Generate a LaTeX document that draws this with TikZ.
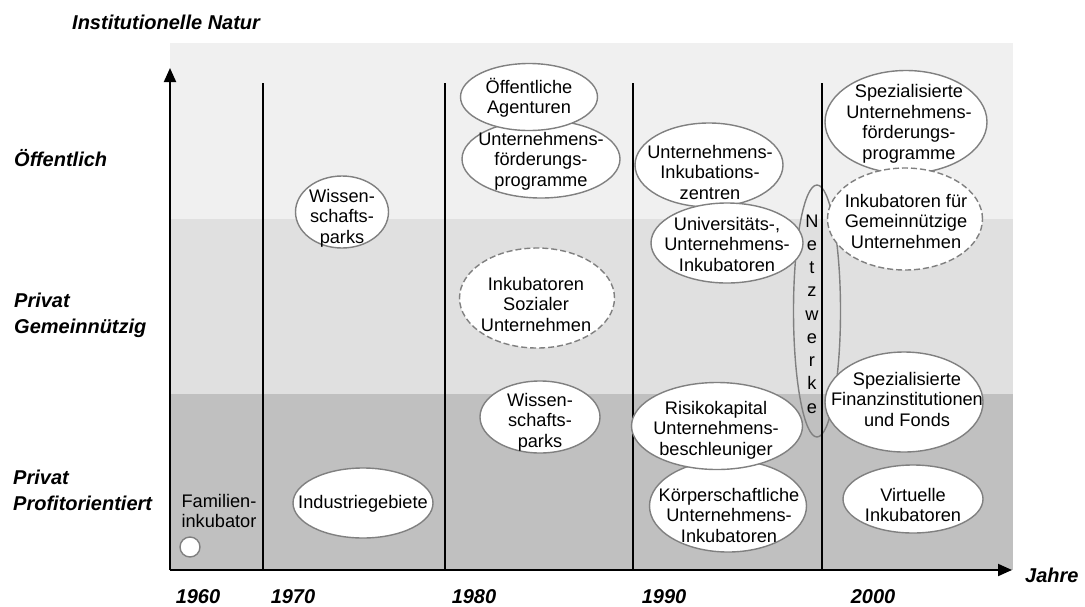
\documentclass[tikz,border=0pt]{standalone}
\usepackage{fontspec}
\setmainfont{Liberation Sans}
\usetikzlibrary{shapes.geometric,arrows.meta}
\definecolor{bandpub}{HTML}{F0F0F0}
\definecolor{bandnon}{HTML}{E0E0E0}
\definecolor{bandpro}{HTML}{C0C0C0}
\definecolor{rim}{HTML}{808080}
\begin{document}
\begin{tikzpicture}[x=1pt,y=-1pt,
  blob/.style={ellipse,draw=rim,line width=1.4pt,fill=white,inner sep=0pt},
  blobdash/.style={blob,dash pattern=on 6pt off 3pt},
  txt/.style={align=center,font=\fontsize{18.2}{20.5}\selectfont,inner sep=0pt},
  cat/.style={font=\fontsize{20}{26}\selectfont\bfseries\itshape,align=left,anchor=west,inner sep=0pt},
  yr/.style={font=\fontsize{20}{24}\selectfont\bfseries\itshape,inner sep=0pt},
  era/.style={line width=2pt},
  axis/.style={line width=2pt,-{Triangle[length=14pt,width=12pt]}}]
\useasboundingbox (0,0) rectangle (1085,606);

% horizontal bands for the institutional nature
\fill[bandpub] (170,43) rectangle (1013,219);
\fill[bandnon] (170,219) rectangle (1013,394);
\fill[bandpro] (170,394) rectangle (1013,570);

% networks span across the bands
\node[ellipse,draw=rim,line width=1.4pt,inner sep=0pt,minimum width=47pt,minimum height=252pt] (netz) at (817,311) {};
\node[txt,font=\fontsize{18.2}{23.25}\selectfont] (netz-t) at (812,314) {N\\e\\t\\z\\w\\e\\r\\k\\e};

% decade separators
\foreach \n/\x in {a/263,b/445,c/633,d/822}{
  \coordinate (\n-top) at (\x,83);
  \coordinate (\n-bot) at (\x,570);
  \draw[era] (\n-top) -- (\n-bot);
}

% axes
\coordinate (origin) at (170,570);
\coordinate (ytip) at (170,68);
\coordinate (xtip) at (1012,570);
\draw[axis] (origin) -- (ytip);
\draw[axis] (origin) -- (xtip);

% axis labels
\node[cat] (inst) at (72,22) {Institutionelle Natur};
\node[cat] (pub) at (14,158) {Öffentlich};
\node[cat] (non) at (14,315) {Privat\\Gemeinnützig};
\node[cat] (pro) at (13,490) {Privat\\Profitorientiert};
\node[yr] (y60) at (198,597) {1960};
\node[yr] (y70) at (293,597) {1970};
\node[yr] (y80) at (474,597) {1980};
\node[yr] (y90) at (664,597) {1990};
\node[yr] (y00) at (873,597) {2000};
\node[yr,anchor=west] (jahre) at (1025,575) {Jahre};

% 1960s
\node[txt] (fam-t) at (219,511) {Familien-\\inkubator};
\node[circle,draw=rim,line width=1.4pt,fill=white,minimum size=20pt,inner sep=0pt] (fam) at (190,547) {};

% 1970s
\node[blob,minimum width=93pt,minimum height=72pt] (wp70) at (342,212) {};
\node[txt] (wp70-t) at (342,218) {Wissen-\\schafts-\\parks};
\node[blob,minimum width=140pt,minimum height=70pt] (ind) at (363,503) {};
\node[txt] (ind-t) at (363,504) {Industriegebiete};

% 1980s
\node[blob,minimum width=158pt,minimum height=78pt] (ufp) at (541,159) {};
\node[txt] (ufp-t) at (541,161) {Unternehmens-\\förderungs-\\programme};
\node[blob,minimum width=137pt,minimum height=67pt] (agen) at (529,97) {};
\node[txt] (agen-t) at (529,98) {Öffentliche\\Agenturen};
\node[blobdash,minimum width=155pt,minimum height=100pt] (isu) at (537,298) {};
\node[txt] (isu-t) at (536,304) {Inkubatoren\\Sozialer\\Unternehmen};
\node[blob,minimum width=120pt,minimum height=72pt] (wp80) at (540,417) {};
\node[txt] (wp80-t) at (540,422) {Wissen-\\schafts-\\parks};

% 1990s
\node[blob,minimum width=148pt,minimum height=84pt] (uiz) at (709,165) {};
\node[txt] (uiz-t) at (710,172) {Unternehmens-\\Inkubations-\\zentren};
\node[blob,minimum width=152pt,minimum height=80pt] (univ) at (727,243) {};
\node[txt] (univ-t) at (727,244) {Universitäts-,\\Unternehmens-\\Inkubatoren};
\node[blob,minimum width=157pt,minimum height=92pt] (korp) at (728,506) {};
\node[txt] (korp-t) at (729,515) {Körperschaftliche\\Unternehmens-\\Inkubatoren};
\node[blob,minimum width=171pt,minimum height=87pt] (risk) at (717,426) {};
\node[txt] (risk-t) at (716,430) {Risikokapital\\Unternehmens-\\beschleuniger};

% 2000s
\node[blob,minimum width=162pt,minimum height=103pt] (sufp) at (906,122) {};
\node[txt] (sufp-t) at (909,124) {Spezialisierte\\Unternehmens-\\förderungs-\\programme};
\node[blobdash,minimum width=155pt,minimum height=102pt] (ifgu) at (905,219) {};
\node[txt] (ifgu-t) at (906,221) {Inkubatoren für\\Gemeinnützige\\Unternehmen};
\node[blob,minimum width=158pt,minimum height=100pt] (sff) at (904,402) {};
\node[txt] (sff-t) at (907,399) {Spezialisierte\\Finanzinstitutionen\\und Fonds};
\node[blob,minimum width=140pt,minimum height=68pt] (virt) at (913,499) {};
\node[txt] (virt-t) at (913,505) {Virtuelle\\Inkubatoren};
\end{tikzpicture}
\end{document}
